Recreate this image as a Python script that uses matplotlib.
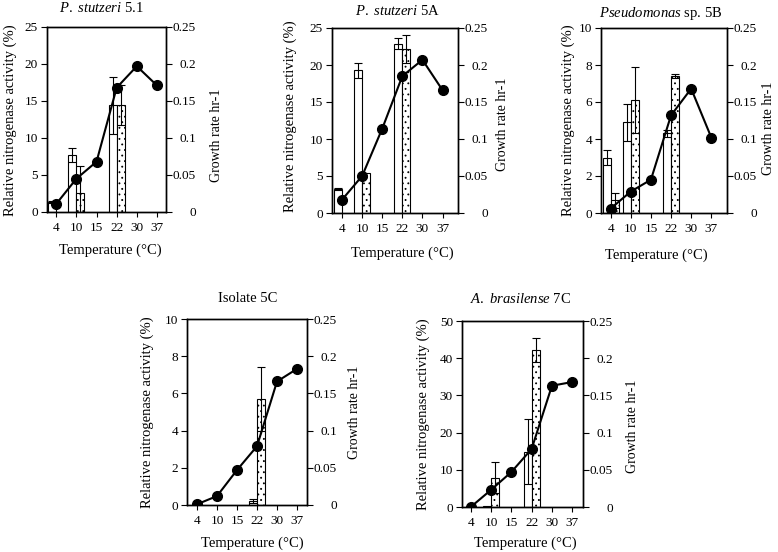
import numpy as np
import matplotlib
matplotlib.use("Agg")
import matplotlib.pyplot as plt

plt.rcParams["font.family"] = "Liberation Serif"
plt.rcParams["mathtext.fontset"] = "custom"
plt.rcParams["mathtext.rm"] = "Liberation Serif"
plt.rcParams["mathtext.it"] = "Liberation Serif:italic"
plt.rcParams["hatch.linewidth"] = 0.6

nan = np.nan
temperatures = ["4", "10", "15", "22", "30", "37"]

# P. stutzeri 5.1
growth_51 = [0.011, 0.045, 0.068, 0.168, 0.197, 0.171]
open_51 = [1.4, 7.7, nan, 14.4, nan, nan]
open_err_51 = [0.15, 0.9, 0, 3.9, 0, 0]
dot_51 = [nan, 2.6, nan, 14.5, nan, nan]
dot_err_51 = [0, 3.6, 0, 2.7, 0, 0]

# P. stutzeri 5A
growth_5a = [0.018, 0.050, 0.114, 0.185, 0.207, 0.166]
open_5a = [3.2, 19.3, nan, 22.9, nan, nan]
open_err_5a = [0.15, 1.0, 0, 0.7, 0, 0]
dot_5a = [nan, 5.45, nan, 22.2, nan, nan]
dot_err_5a = [0, 0, 0, 1.9, 0, 0]

# Pseudomonas sp. 5B
growth_5b = [0.006, 0.029, 0.045, 0.132, 0.168, 0.102]
open_5b = [3.0, 4.9, nan, 4.3, nan, nan]
open_err_5b = [0.4, 1.0, 0, 0.2, 0, 0]
dot_5b = [0.68, 6.1, nan, 7.4, nan, nan]
dot_err_5b = [0.4, 1.8, 0, 0.1, 0, 0]

# Isolate 5C
growth_5c = [0.001, 0.012, 0.047, 0.079, 0.166, 0.183]
open_5c = [nan, nan, nan, 0.2, nan, nan]
open_err_5c = [0, 0, 0, 0.1, 0, 0]
dot_5c = [nan, nan, nan, 5.7, nan, nan]
dot_err_5c = [0, 0, 0, 1.7, 0, 0]

# A. brasilense 7C
growth_7c = [0.0, 0.023, 0.047, 0.078, 0.163, 0.168]
open_7c = [nan, 0.3, nan, 14.9, nan, nan]
open_err_7c = [0, 0, 0, 8.8, 0, 0]
dot_7c = [nan, 7.9, nan, 42.2, nan, nan]
dot_err_7c = [0, 4.2, 0, 3.3, 0, 0]

titles = ["$P.$ $stutzeri$ 5.1", "$P.$ $stutzeri$ 5A", "$Pseudomonas$ sp. 5B",
          "Isolate 5C", "$A.$ $brasilense$ 7C"]
activity_max = [25, 25, 10, 10, 50]
activity_step = [5, 5, 2, 2, 10]
growth_ticks = [0, 0.05, 0.1, 0.15, 0.2, 0.25]
growth_labels = ["0", "0.05", "0.1", "0.15", "0.2", "0.25"]

panels = [
    (growth_51, open_51, open_err_51, dot_51, dot_err_51),
    (growth_5a, open_5a, open_err_5a, dot_5a, dot_err_5a),
    (growth_5b, open_5b, open_err_5b, dot_5b, dot_err_5b),
    (growth_5c, open_5c, open_err_5c, dot_5c, dot_err_5c),
    (growth_7c, open_7c, open_err_7c, dot_7c, dot_err_7c),
]

# layout in pixels: axes box (left, top, right, bottom), xlim,
# title, xlabel, left ylabel, right ylabel centres
W, H = 778, 552
layout = [
    ((47, 27, 166, 212), (-0.46, 5.45), (101, 8), (110, 250), (10, 120), (217, 135)),
    ((332, 28, 458, 213), (-0.5, 5.77), (397, 11), (402, 253), (290, 116), (503, 124)),
    ((601, 28, 727, 213), (-0.48, 5.78), (661, 14), (656, 255), (568, 120), (768, 128)),
    ((187, 319, 307, 505), (-0.5, 5.5), (248, 298), (252, 543), (147, 412), (355, 412)),
    ((462, 321, 583, 507), (-0.43, 5.53), (521, 299), (525, 543), (423, 414), (632, 426)),
]


def put(fig, xy, s, **kw):
    fig.text(xy[0] / W, 1 - xy[1] / H, s, ha="center", va="center", **kw)


fig = plt.figure(figsize=(W / 100, H / 100), dpi=100)
x = np.arange(len(temperatures))
bw = 0.4

for (growth, act_open, err_open, act_dot, err_dot), title, ymax, ystep, lay in zip(
        panels, titles, activity_max, activity_step, layout):
    (l, t, r, b), xlim, t_xy, xl_xy, yl_xy, yr_xy = lay
    ax = fig.add_axes([l / W, 1 - b / H, (r - l) / W, (b - t) / H])

    act_open = np.array(act_open)
    act_dot = np.array(act_dot)
    ax.bar(x - bw / 2, act_open, width=bw, color="white", edgecolor="black", linewidth=0.8)
    ax.bar(x + bw / 2, act_dot, width=bw, color="white", edgecolor="black", linewidth=0.8,
           hatch="...")
    for xs, vals, errs in ((x - bw / 2, act_open, err_open), (x + bw / 2, act_dot, err_dot)):
        m = ~np.isnan(vals) & (np.array(errs) > 0)
        ax.errorbar(xs[m], vals[m], yerr=np.array(errs)[m], fmt="none", ecolor="black",
                    elinewidth=0.8, capsize=3, capthick=0.8)

    ax.set_xlim(*xlim)
    ax.set_ylim(0, ymax)
    ax.set_yticks(np.arange(0, ymax + 0.1, ystep))
    ax.set_xticks(x)
    ax.set_xticklabels(temperatures)
    ax.tick_params(axis="y", direction="out", length=4.5, width=0.8, labelsize=9.5, pad=2)
    ax.tick_params(axis="x", direction="out", length=3.5, width=0.8, labelsize=9.5, pad=4)

    ax2 = ax.twinx()
    ax2.plot(x, growth, color="black", linewidth=1.5, marker="o", markersize=7)
    ax2.set_ylim(0, 0.25)
    ax2.set_yticks(growth_ticks)
    ax2.set_yticklabels(growth_labels)
    ax2.tick_params(axis="y", direction="out", length=4.5, width=0.8, labelsize=9.5, pad=17)
    for lbl in ax2.get_yticklabels():
        lbl.set_horizontalalignment("right")
    for a in (ax, ax2):
        for sp in a.spines.values():
            sp.set_linewidth(1.0)

    put(fig, t_xy, title, fontsize=10.5)
    put(fig, xl_xy, "Temperature (°C)", fontsize=10.5)
    put(fig, yl_xy, "Relative nitrogenase activity (%)", fontsize=10.5, rotation=90)
    put(fig, yr_xy, "Growth rate hr-1", fontsize=10, rotation=90)

fig.savefig("out.png", dpi=100)
